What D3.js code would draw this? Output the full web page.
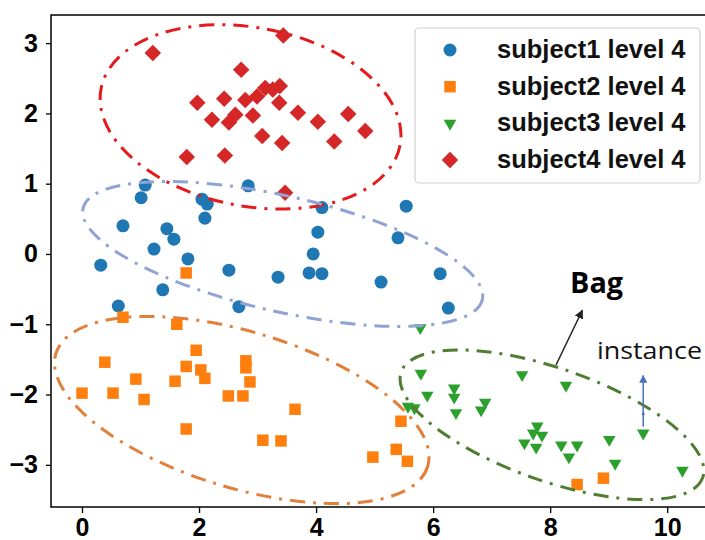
<!DOCTYPE html>
<html><head><meta charset="utf-8">
<script src="https://cdn.jsdelivr.net/npm/d3@7"></script>
<style>body{margin:0;background:#fff}</style>
</head><body><svg id="c" width="705" height="540"></svg>
<script>
// ---------- data ----------
const subject1 = [[1.08,0.98],[1.01,0.80],[2.05,0.78],[2.14,0.71],[2.10,0.51],[2.84,0.97],[0.70,0.40],[1.45,0.36],
  [1.57,0.21],[1.23,0.07],[1.81,-0.07],[0.32,-0.16],[2.51,-0.23],[3.35,-0.33],[1.38,-0.51],[0.62,-0.74],[2.68,-0.75],
  [4.10,0.66],[5.54,0.68],[4.03,0.31],[3.95,0.00],[3.88,-0.27],[4.10,-0.28],[5.40,0.23],[5.11,-0.40],[6.12,-0.28],[6.26,-0.77]];
const subject2 = [[1.78,-0.27],[0.70,-0.90],[1.62,-1.00],[1.95,-1.37],[0.39,-1.54],[1.78,-1.60],[2.03,-1.65],[2.10,-1.77],
  [0.92,-1.78],[1.59,-1.81],[2.80,-1.52],[2.80,-1.62],[2.87,-1.82],[0.00,-1.98],[0.53,-1.98],[1.06,-2.07],[2.50,-2.02],
  [2.75,-2.02],[1.78,-2.49],[3.09,-2.65],[3.40,-2.66],[3.64,-2.21],[5.45,-2.38],[4.97,-2.89],[5.37,-2.78],[5.56,-2.95],
  [8.46,-3.28],[8.91,-3.19]];
const subject3 = [[5.78,-1.05],[5.79,-1.70],[5.90,-2.01],[5.57,-2.17],[5.68,-2.19],[6.36,-1.91],[6.36,-2.04],[6.39,-2.26],
  [6.89,-2.11],[6.82,-2.22],[7.52,-1.72],[8.27,-1.87],[7.78,-2.45],[7.71,-2.55],[7.86,-2.58],[7.56,-2.69],[7.76,-2.75],
  [8.19,-2.72],[8.46,-2.72],[8.32,-2.89],[9.01,-2.64],[9.11,-2.98],[9.59,-2.55],[10.26,-3.08]];
const subject4 = [[1.21,2.86],[3.44,3.11],[2.72,2.62],[1.97,2.15],[2.43,2.21],[2.79,2.19],[2.22,1.91],[2.62,1.98],
  [2.51,1.87],[2.99,2.24],[3.13,2.36],[3.26,2.34],[3.38,2.39],[2.92,1.97],[3.37,2.15],[3.69,2.01],[4.03,1.88],[4.55,1.99],
  [4.84,1.75],[3.08,1.68],[3.42,1.58],[4.31,1.60],[1.79,1.38],[2.44,1.40],[3.47,0.87]];
const seriesLabels = ["subject1 level 4","subject2 level 4","subject3 level 4","subject4 level 4"];
const xTicks = [0,2,4,6,8,10];
const xTickLabels = ["0","2","4","6","8","10"];
const yTicks = [-3,-2,-1,0,1,2,3];
const yTickLabels = ["\u22123","\u22122","\u22121","0","1","2","3"];
// bag outlines: centre (data), radii (data units), rotation (deg)
const bagEllipses = [[2.88,1.95,2.60,1.27,10.7],[3.43,0.00,3.50,0.82,12.9],[2.73,-2.22,3.32,1.11,16.9],[8.03,-2.43,2.73,0.80,19.3]];
const arrowFrom = [[8.10,-1.58],[9.59,-2.46]];
const arrowTo = [[8.55,-0.80],[9.59,-1.73]];
const noteTexts = ["Bag","instance"];
const notePos = [[8.34,-0.56],[8.80,-1.50]];

// ---------- styles ----------
const colors = ["#1f77b4","#ff7f0e","#2ca02c","#d62728"];
const ellipseColors = ["#e41a1c","#8fa4d4","#e2803a","#507d32"];
const arrowColors = ["#222","#4a72c0"];
const M = {l:51, t:15, r:707, b:507};

const svg = d3.select("#c");
const x = d3.scaleLinear().domain([-0.53,10.68]).range([M.l,M.r]);
const y = d3.scaleLinear().domain([-3.60,3.40]).range([M.b,M.t]);

// axes
const fontFam = "'Liberation Sans', Arial, sans-serif";
const gx = svg.append("g").attr("transform",`translate(0,${M.b})`)
  .call(d3.axisBottom(x).tickValues(xTicks).tickFormat((d,i)=>xTickLabels[i]).tickSize(6).tickPadding(5));
const gy = svg.append("g").attr("transform",`translate(${M.l},0)`)
  .call(d3.axisLeft(y).tickValues(yTicks).tickFormat((d,i)=>yTickLabels[i]).tickSize(5).tickPadding(8));
[gx,gy].forEach(g=>{
  g.select(".domain").remove();
  g.selectAll(".tick line").attr("stroke","#000").attr("stroke-width",1.3);
  g.selectAll("text").attr("font-family",fontFam).attr("font-weight","bold").attr("font-size",25).attr("fill","#000");
});
// frame
svg.append("rect").attr("x",M.l).attr("y",M.t).attr("width",M.r-M.l).attr("height",M.b-M.t)
  .attr("fill","none").attr("stroke","#000").attr("stroke-width",1.5);

// markers
const sym = [
  d3.symbol().type(d3.symbolCircle).size(133),
  d3.symbol().type(d3.symbolSquare).size(132),
  d3.symbol().type(d3.symbolTriangle).size(68),
  d3.symbol().type(d3.symbolSquare).size(136)
];
const rot = [0,0,180,45];
const allSeries = [subject1,subject2,subject3,subject4];
allSeries.forEach((s,i)=>{
  svg.append("g").selectAll("path").data(s).join("path")
    .attr("d",sym[i]())
    .attr("transform",d=>`translate(${x(d[0])},${y(d[1])}) rotate(${rot[i]})`)
    .attr("fill",colors[i]);
});

// ellipses
const pxX = x(1)-x(0), pxY = y(0)-y(1);
svg.append("g").selectAll("ellipse").data(bagEllipses).join("ellipse")
  .attr("cx",d=>x(d[0])).attr("cy",d=>y(d[1]))
  .attr("rx",d=>d[2]*pxX).attr("ry",d=>d[3]*pxY)
  .attr("transform",d=>`rotate(${d[4]},${x(d[0])},${y(d[1])})`)
  .attr("fill","none").attr("stroke",(d,i)=>ellipseColors[i])
  .attr("stroke-width",3).attr("stroke-dasharray","15,8,3,8");

// arrows
const defs = svg.append("defs");
arrowColors.forEach((c,i)=>{
  defs.append("marker").attr("id","ah"+i).attr("viewBox","0 0 10 10").attr("refX",9).attr("refY",5)
    .attr("markerWidth",i===0?9:8).attr("markerHeight",i===0?9:8).attr("markerUnits","userSpaceOnUse").attr("orient","auto")
    .append("path").attr("d","M0,0L10,5L0,10Z").attr("fill",c);
});
arrowFrom.forEach((f,i)=>{
  svg.append("line").attr("x1",x(f[0])).attr("y1",y(f[1])).attr("x2",x(arrowTo[i][0])).attr("y2",y(arrowTo[i][1]))
    .attr("stroke",arrowColors[i]).attr("stroke-width",1.5).attr("marker-end",`url(#ah${i})`);
});
svg.append("circle").attr("cx",x((arrowFrom[1][0]+arrowTo[1][0])/2)).attr("cy",y(arrowFrom[1][1]*0.75+arrowTo[1][1]*0.25))
  .attr("r",1.5).attr("fill",arrowColors[1]);

// notes
svg.append("text").attr("x",x(notePos[0][0])).attr("y",y(notePos[0][1])).text(noteTexts[0])
  .attr("font-family","'Open Sans','Noto Sans',sans-serif").attr("font-weight","bold").attr("font-size",29).attr("fill","#000")
  .attr("textLength",53).attr("lengthAdjust","spacingAndGlyphs");
svg.append("text").attr("x",x(notePos[1][0])).attr("y",y(notePos[1][1])).text(noteTexts[1])
  .attr("font-family","'Open Sans','Noto Sans',sans-serif").attr("font-size",24).attr("fill","#111")
  .attr("textLength",105).attr("lengthAdjust","spacingAndGlyphs");

// legend
const lg = svg.append("g");
lg.append("rect").attr("x",415).attr("y",28).attr("width",285).attr("height",155).attr("rx",4)
  .attr("fill","#fff").attr("fill-opacity",0.85).attr("stroke","#d0d0d0").attr("stroke-width",1.2);
seriesLabels.forEach((lab,i)=>{
  const cy = 50 + i*36.7;
  lg.append("path").attr("d",sym[i]()).attr("transform",`translate(450,${cy}) rotate(${rot[i]})`).attr("fill",colors[i]);
  lg.append("text").attr("x",497).attr("y",cy+8).text(lab)
    .attr("font-family",fontFam).attr("font-weight","bold").attr("font-size",25.5).attr("fill","#111");
});
</script></body></html>
